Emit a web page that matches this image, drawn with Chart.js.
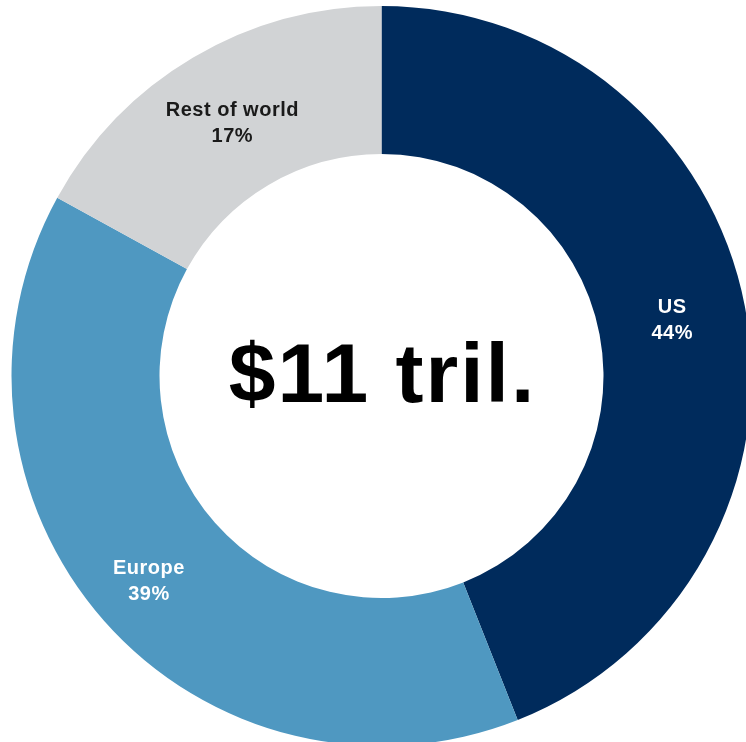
<!DOCTYPE html>
<html>
<head>
<meta charset="utf-8">
<script src="https://cdn.jsdelivr.net/npm/chart.js@4/dist/chart.umd.min.js"></script>
<style>
  html, body { margin: 0; padding: 0; background: #ffffff; overflow: hidden; }
  #wrap { position: absolute; left: 0; top: 0; width: 762px; height: 752px; }
</style>
</head>
<body>
<div id="wrap"><canvas id="donut" width="762" height="752"></canvas></div>
<script>
const regions = ["US", "Europe", "Rest of world"];
const shares = [44, 39, 17];
const sliceColors = ["#002b5c", "#4f98c1", "#d1d3d5"];
const labelColors = ["#ffffff", "#ffffff", "#1a1a1a"];
const centerText = "$11 tril.";

const FONT = "'Liberation Sans', Arial, sans-serif";
// push some labels a little off the middle of the ring
const labelNudge = [0, 14, -3];

// slice names and percentages, drawn at the middle of each arc
const sliceLabels = {
  id: "sliceLabels",
  afterDatasetsDraw(chart) {
    const c = chart.ctx;
    const arcs = chart.getDatasetMeta(0).data;
    c.save();
    c.textAlign = "center";
    c.textBaseline = "middle";
    c.font = "bold 20px " + FONT;
    c.letterSpacing = "0.5px";
    arcs.forEach((arc, i) => {
      const mid = (arc.startAngle + arc.endAngle) / 2;
      const r = (arc.innerRadius + arc.outerRadius) / 2 + labelNudge[i];
      const x = arc.x + Math.cos(mid) * r;
      const y = arc.y + Math.sin(mid) * r;
      c.fillStyle = labelColors[i];
      c.fillText(regions[i], x, y - 13);
      c.fillText(shares[i] + "%", x, y + 13);
    });
    c.restore();
  },
};

// total in the hole
const centerLabel = {
  id: "centerLabel",
  afterDraw(chart) {
    const arc = chart.getDatasetMeta(0).data[0];
    const c = chart.ctx;
    c.save();
    c.textAlign = "center";
    c.textBaseline = "middle";
    c.fillStyle = "#000000";
    c.font = "bold 84px " + FONT;
    c.letterSpacing = "2px";
    c.fillText(centerText, arc.x + 1, arc.y + 3);
    c.restore();
  },
};

new Chart(document.getElementById("donut").getContext("2d"), {
  type: "doughnut",
  data: {
    labels: regions,
    datasets: [
      {
        data: shares,
        backgroundColor: sliceColors,
        borderWidth: 0,
      },
    ],
  },
  options: {
    responsive: false,
    animation: false,
    cutout: "60%",
    layout: { padding: { left: 11, right: 10, top: 6, bottom: 6 } },
    plugins: {
      legend: { display: false },
      tooltip: { enabled: false },
    },
  },
  plugins: [sliceLabels, centerLabel],
});
</script>
</body>
</html>
